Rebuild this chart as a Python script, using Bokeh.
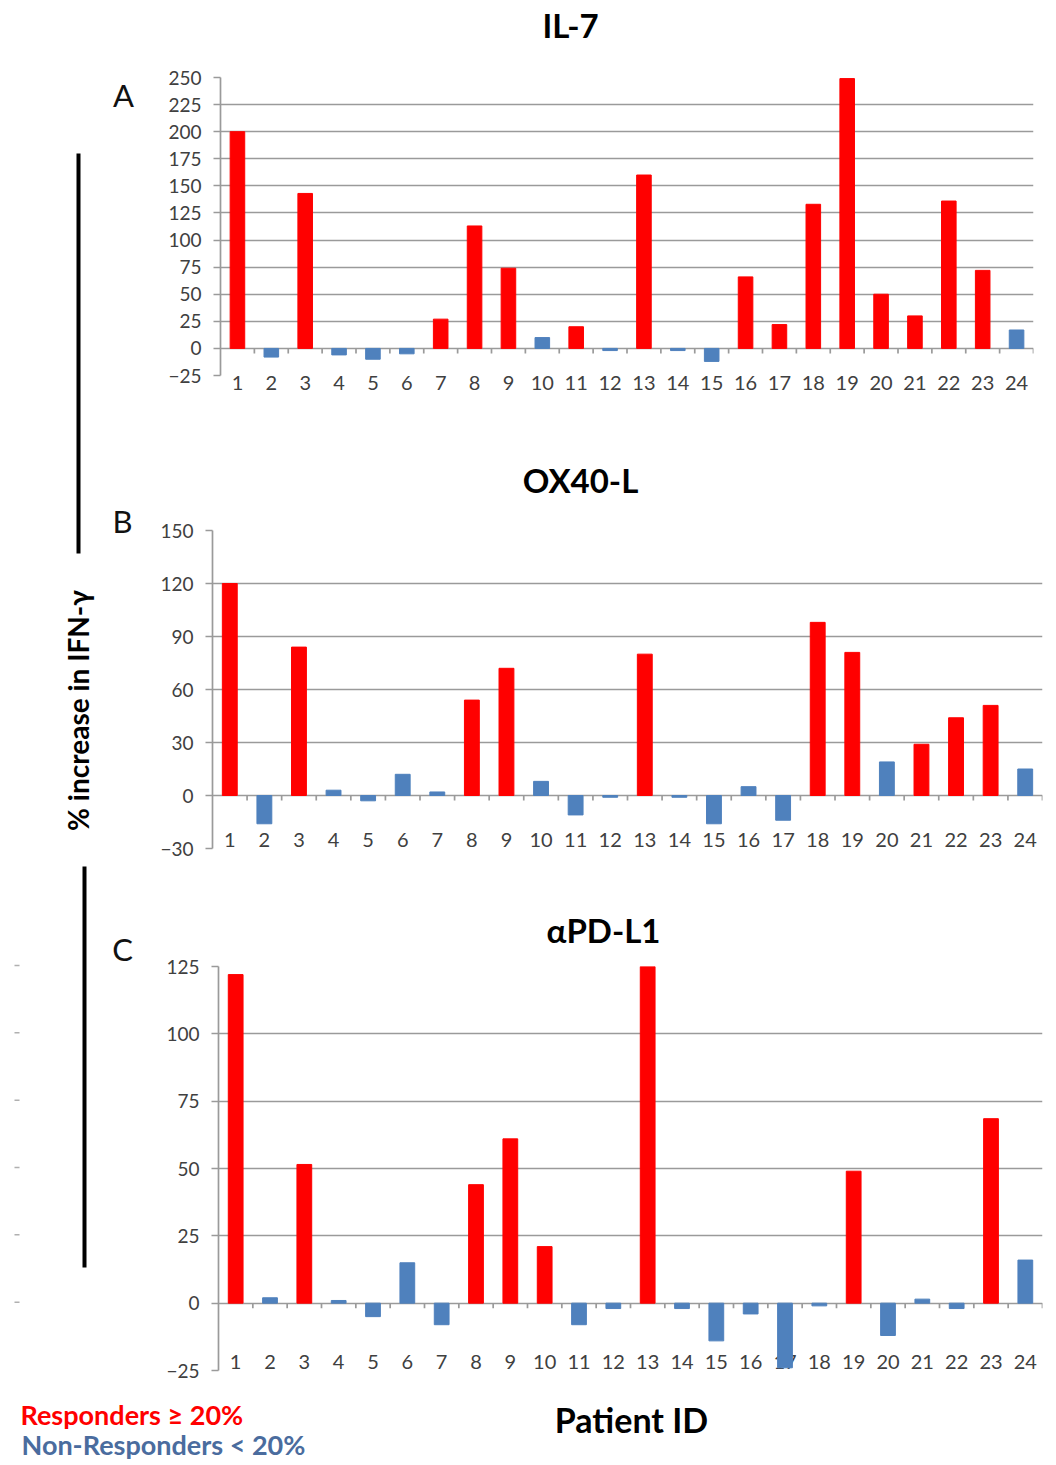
import math
from bokeh.plotting import figure
from bokeh.layouts import column, row
from bokeh.models import FixedTicker, Range1d, ColumnDataSource
from bokeh.core.properties import value
from bokeh.embed import file_html
from bokeh.resources import INLINE

# ---------------- data ----------------
patients = list(range(1, 25))
patient_labels = [str(i) for i in patients]
il7 = [200, -8, 143, -6, -10, -5, 27, 113, 74, 10, 20, -2,
       160, -2, -12, 66, 22, 133, 249, 50, 30, 136, 72, 17]
ox40l = [120, -16, 84, 3, -3, 12, 2, 54, 72, 8, -11, -1,
         80, -1, -16, 5, -14, 98, 81, 19, 29, 44, 51, 15]
pdl1 = [122, 2, 51.5, 1, -5, 15, -8, 44, 61, 21, -8, -2,
        125, -2, -14, -4, -24, -1, 49, -12, 1.5, -2, 68.5, 16]
titles = ["IL-7", "OX40-L", "\u03b1PD-L1"]
panel_letters = ["A", "B", "C"]
threshold = 20
yticks_a = list(range(-25, 251, 25))
yticks_b = list(range(-30, 151, 30))
yticks_c = list(range(-25, 126, 25))

RED = "#FF0000"
BLUE = "#4F81BD"
GRID = "#9a9a9a"
TXT = "#404040"
FONT = "Lato"

LEFT_W = 140      # left decoration column
RIGHT_W = 910     # panel column
TOTAL_W = LEFT_W + RIGHT_W


def deco(x0, y0, w, h):
    """A blank figure whose data space equals page pixels (for decorations)."""
    f = figure(width=w, height=h, x_range=Range1d(x0, x0 + w),
               y_range=Range1d(y0 + h, y0), min_border=0,
               output_backend="svg", toolbar_location=None)
    f.axis.visible = False
    f.grid.visible = False
    f.outline_line_color = None
    return f


def txt(f, x, y, s, size, bold=False, color="black", align="center", angle=0.0):
    f.text(x=[x], y=[y], text=[s], text_font=value(FONT), text_font_size=size,
           text_font_style="bold" if bold else "normal", text_color=color,
           text_align=align, text_baseline="middle", angle=angle)


def panel(vals, yticks, fl, fr, ft, fb, ct, cb, labels_inside):
    ymin, ymax = yticks[0], yticks[-1]
    p = figure(width=RIGHT_W, height=cb - ct,
               x_range=Range1d(0.5, 24.5), y_range=Range1d(ymin, ymax),
               output_backend="svg", toolbar_location=None,
               min_border_left=fl - LEFT_W, min_border_right=TOTAL_W - fr,
               min_border_top=ft - ct, min_border_bottom=cb - fb)
    p.outline_line_color = None
    p.xgrid.visible = False
    p.ygrid.ticker = FixedTicker(ticks=yticks)
    p.ygrid.grid_line_color = GRID
    p.ygrid.grid_line_width = 1.7

    ya = p.yaxis[0]
    ya.ticker = FixedTicker(ticks=yticks)
    ya.axis_line_color = GRID
    ya.axis_line_width = 1.7
    ya.major_tick_line_color = GRID
    ya.major_tick_line_width = 1.7
    ya.major_tick_out = 7
    ya.major_tick_in = 0
    ya.minor_tick_line_color = None
    ya.major_label_standoff = 12
    ya.major_label_text_font = FONT
    ya.major_label_text_font_size = "19px"
    ya.major_label_text_color = TXT

    xa = p.xaxis[0]
    if labels_inside:
        xa.visible = False
        up = 8.5 * (ymax - ymin) / (fb - ft)
        p.text(x=patients, y=[ymin + up] * len(patients), text=patient_labels,
               text_align="center", text_baseline="middle",
               text_font=value(FONT), text_font_size="20px", text_color=TXT)
    else:
        xa.ticker = FixedTicker(ticks=patients)
        xa.axis_line_color = None
        xa.major_tick_line_color = None
        xa.major_tick_out = 0
        xa.major_tick_in = 0
        xa.minor_tick_line_color = None
        xa.major_label_standoff = 0
        xa.major_label_text_font = FONT
        xa.major_label_text_font_size = "20px"
        xa.major_label_text_color = TXT

    colors = [RED if v >= threshold else BLUE for v in vals]
    src = ColumnDataSource(dict(x=patients, top=vals, color=colors))
    p.vbar(x="x", top="top", bottom=0, width=0.43, color="color", source=src)

    # category tick marks under the zero line
    d = 5.0 * (ymax - ymin) / (fb - ft)
    bx = [i + 0.5 for i in patients]
    p.segment(x0=bx, y0=[0] * len(bx), x1=bx, y1=[-d] * len(bx),
              line_color=GRID, line_width=1.7)
    return p


# page-coordinate layout of the right column
A = dict(fl=220, fr=1033, ft=77, fb=375, ct=62, cb=455)
B = dict(fl=212, fr=1042, ft=530, fb=848, ct=515, cb=900)
C = dict(fl=218, fr=1042, ft=966, fb=1370, ct=952, cb=1380)

pA = panel(il7, yticks_a, labels_inside=False, **A)
pB = panel(ox40l, yticks_b, labels_inside=True, **B)
pC = panel(pdl1, yticks_c, labels_inside=True, **C)

# title strips
tA = deco(LEFT_W, 0, RIGHT_W, 62)
txt(tA, 570, 24, titles[0], "33px", bold=True)
tB = deco(LEFT_W, 455, RIGHT_W, 60)
txt(tB, 580, 479, titles[1], "33px", bold=True)
tC = deco(LEFT_W, 900, RIGHT_W, 52)
txt(tC, 603, 929, titles[2], "33px", bold=True)

# left decoration column
L = deco(0, 0, LEFT_W, 1380)
L.quad(left=[76, 82], right=[80, 86], top=[153, 866], bottom=[553, 1267],
       color="black", line_color=None)
txt(L, 77, 710, "% increase in IFN-\u03b3", "28px", bold=True, angle=math.pi / 2)
txt(L, 123, 94, panel_letters[0], "31px", color="#111111")
txt(L, 122, 520, panel_letters[1], "31px", color="#111111")
txt(L, 122, 948, panel_letters[2], "31px", color="#111111")
# faint stray marks at the far left, level with panel C gridlines
kC = (C["fb"] - C["ft"]) / (yticks_c[-1] - yticks_c[0])
ys = [C["ft"] + (yticks_c[-1] - t) * kC - 1 for t in yticks_c[1:]]
L.segment(x0=[14] * len(ys), y0=ys, x1=[19] * len(ys), y1=ys,
          line_color="#b0b0b0", line_width=1.5)

# bottom strip: x title and legend
bot = deco(0, 1380, TOTAL_W, 84)
txt(bot, 631, 1419, "Patient ID", "34px", bold=True)
txt(bot, 20, 1414, "Responders \u2265 20%", "27px", bold=True, color=RED, align="left")
txt(bot, 21, 1444, "Non-Responders < 20%", "27px", bold=True, color="#4A6C9E", align="left")

# each strip wrapped on its own so that plot frames are not aligned together
right = column(row(tA), row(pA), row(tB), row(pB), row(tC), row(pC), spacing=0)
layout = column(row(L, right, spacing=0), bot, spacing=0)
open("out.html", "w").write(file_html(layout, INLINE))
